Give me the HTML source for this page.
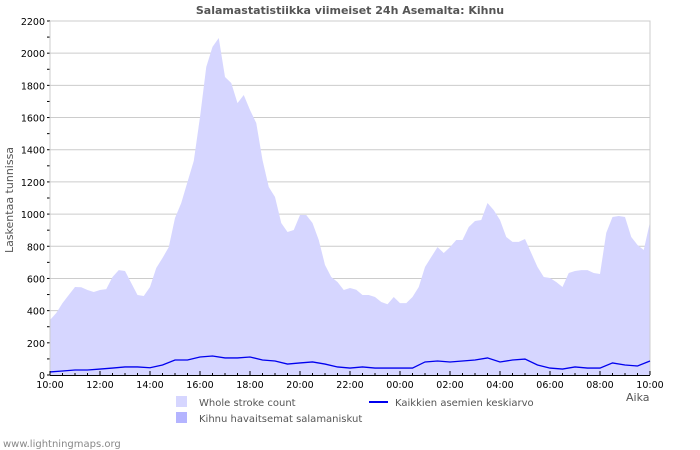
<!DOCTYPE html>
<html><head><meta charset="utf-8"><style>
body{margin:0;background:#fff;width:700px;height:450px;overflow:hidden}
svg{display:block;font-family:"DejaVu Sans","Liberation Sans",sans-serif}
</style></head><body>
<svg id="c" width="700" height="450">
<text x="350" y="14" text-anchor="middle" font-size="11" font-weight="bold" fill="#555">Salamastatistiikka viimeiset 24h Asemalta: Kihnu</text>
<text transform="translate(13,200) rotate(-90)" text-anchor="middle" font-size="11" fill="#555">Laskentaa tunnissa</text>
<text x="626" y="401" font-size="11" fill="#555">Aika</text>
<g id="plot"></g>
<g>
<rect x="176" y="396" width="11" height="11" fill="#d6d6ff"/>
<text x="199" y="406" font-size="10" fill="#555">Whole stroke count</text>
<rect x="176" y="412" width="11" height="11" fill="#b4b4ff"/>
<text x="199" y="422" font-size="10" fill="#555">Kihnu havaitsemat salamaniskut</text>
<line x1="369" y1="402" x2="388" y2="402" stroke="#0000ee" stroke-width="2"/>
<text x="395" y="406" font-size="10" fill="#555">Kaikkien asemien keskiarvo</text>
</g>
<text x="3" y="447" font-size="10" fill="#888">www.lightningmaps.org</text>
</svg>
<script>
const yTicks=[0,200,400,600,800,1000,1200,1400,1600,1800,2000,2200];
const xTickLabels=["10:00","12:00","14:00","16:00","18:00","20:00","22:00","00:00","02:00","04:00","06:00","08:00","10:00"];
const wholeCounts=[342,385,447,497,547,545,528,516,528,534,609,652,646,572,497,491,547,665,727,795,976,1069,1200,1330,1603,1914,2039,2094,1852,1815,1690,1740,1647,1566,1336,1168,1106,945,889,901,994,994,945,839,684,609,578,528,541,530,497,497,485,454,440,485,447,447,485,547,671,733,795,758,795,839,839,920,957,963,1069,1025,963,858,827,827,845,758,671,609,603,578,547,634,646,652,652,634,628,883,982,988,982,858,808,777,951];
const avgCounts=[19,25,31,31,37,43,50,50,45,62,93,93,112,118,106,106,112,93,87,68,75,81,68,50,43,50,43,43,43,43,81,87,81,87,93,106,81,93,99,62,43,37,50,43,43,75,62,56,87];
const X0=50,X1=650,Y0=375,YT=21,YMAX=2200,HOURS=24;
const sx=h=>X0+(X1-X0)*h/HOURS;
const sy=v=>Y0-(Y0-YT)*v/YMAX;
const NS="http://www.w3.org/2000/svg";
const g=document.getElementById('plot');
function mk(t,a){const e=document.createElementNS(NS,t);for(const k in a)e.setAttribute(k,a[k]);g.appendChild(e);return e;}
yTicks.forEach((v,i)=>{
 if(v>0){const l=mk('line',{x1:X0,x2:X1,y1:sy(v),y2:sy(v),stroke:'#ccc','stroke-width':1});
 
 }
 const t=mk('text',{x:X0-5,y:sy(v)+4,'text-anchor':'end','font-size':9.5,fill:'#000'});
 t.textContent=v;
 
 
 if(i<yTicks.length-1){const m=mk('line',{x1:X0-3,x2:X0,y1:sy(v+100),y2:sy(v+100),stroke:'#000'});
 
 }
 const mj=mk('line',{x1:X0-3,x2:X0,y1:sy(v),y2:sy(v),stroke:'#000'});
 
 
});
let d='M'+sx(0)+','+Y0;
const stepW=HOURS/(wholeCounts.length-1);
wholeCounts.forEach((v,i)=>{d+=' L'+sx(i*stepW)+','+sy(v);});
d+=' L'+sx(HOURS)+','+Y0+' Z';
const area=mk('path',{d:d,fill:'#d6d6ff'});


const fr=mk('path',{d:`M${X0},${YT} H${X1} V${Y0}`,fill:'none',stroke:'#ccc'});


const ya=mk('line',{x1:X0,x2:X0,y1:YT,y2:Y0,stroke:'#ccc'});


const aw=HOURS/(avgCounts.length-1);
let p='';
avgCounts.forEach((v,i)=>{p+=(i?' L':'M')+sx(i*aw)+','+sy(v);});
const ln=mk('path',{d:p,fill:'none',stroke:'#0000ee','stroke-width':1.3});


const xa=mk('line',{x1:X0,x2:X1,y1:Y0+0.5,y2:Y0+0.5,stroke:'#000'});


for(let h=0;h<=HOURS*2;h++){
 const major=h%4===0;
 const t=mk('line',{x1:sx(h/2),x2:sx(h/2),y1:Y0-(major?4:2),y2:Y0,stroke:'#000'});
 
 
}
xTickLabels.forEach((s,i)=>{
 const t=mk('text',{x:sx(i*2),y:Y0+13,'text-anchor':'middle','font-size':9.5,fill:'#000'});
 t.textContent=s;
 
 
});
</script>
</body></html>
